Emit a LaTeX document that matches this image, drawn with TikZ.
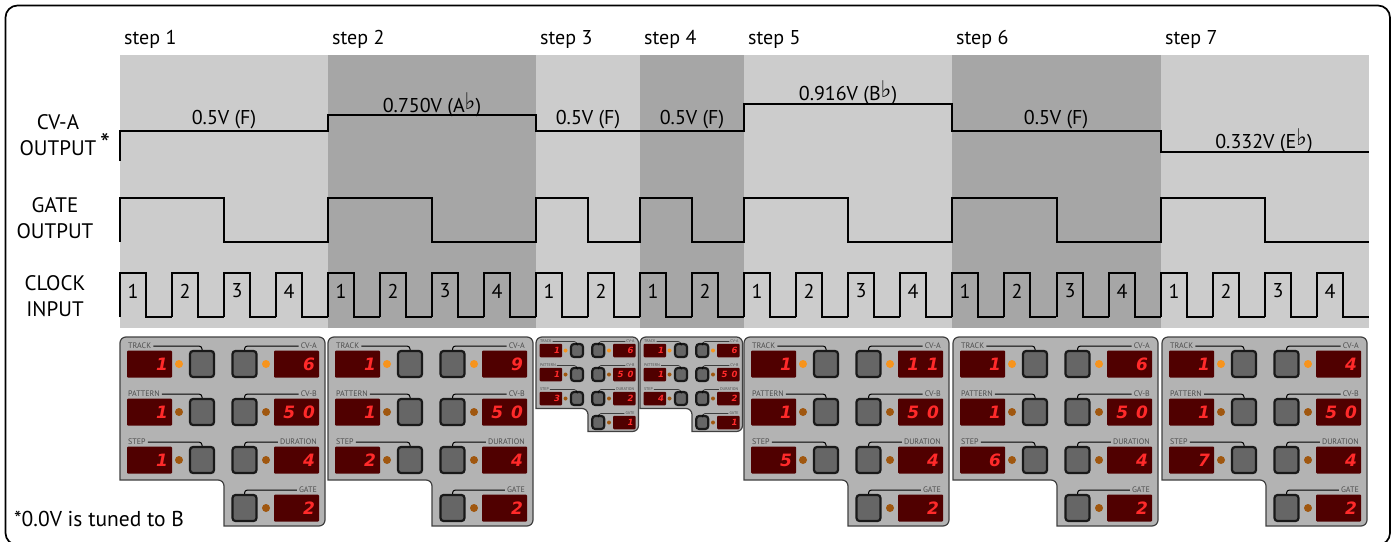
\documentclass[tikz,border=0pt]{standalone}
\usepackage{fontspec}
\setmainfont{PT Sans}
\newfontfamily\segfont{DejaVu Sans}
\usetikzlibrary{%
  positioning,% wg. " of "
  calc
}
\definecolor{bandlight}{HTML}{CCCCCC}
\definecolor{banddark}{HTML}{A6A6A6}
\definecolor{panelgray}{HTML}{B3B3B3}
\definecolor{displayred}{HTML}{500000}
\definecolor{segred}{HTML}{FF2A2A}
\definecolor{ledon}{HTML}{F7941D}
\definecolor{ledoff}{HTML}{A0570F}

\tikzset{
display/.style={rectangle, rounded corners=1pt, fill=displayred, inner sep=0pt, minimum width=45pt, minimum height=27pt},
button/.style={rectangle, rounded corners=3pt, draw=black!90, line width=2.2pt, fill=black!60, inner sep=0pt, minimum width=24pt, minimum height=26pt},
led/.style={circle, inner sep=0pt, minimum size=8pt},
digit/.style={inner sep=0pt, text=segred, font=\segfont\bfseries\itshape\fontsize{17}{18}\selectfont},
tag/.style={inner sep=0pt, text=black!70, font=\fontsize{8}{8}\selectfont},
wave/.style={line width=1.7pt, line join=miter},
steplabel/.style={anchor=west, inner sep=0pt, font=\fontsize{20}{22}\selectfont},
value/.style={inner sep=0pt, font=\fontsize{20}{22}\selectfont},
signal/.style={inner sep=0pt, align=center, font=\fontsize{21}{26}\selectfont}
}

% prefix, x, scale, cv-a, step, duration, gate
\newcommand{\panel}[7]{
\begin{scope}[shift={(#2,337)}, scale=#3, transform shape]
\draw[fill=panelgray, draw=black!75, line width=1.2pt] (0,143) [rounded corners=6pt] -- (0,0) -- (205,0) -- (205,189) [sharp corners] -- (104,189) [rounded corners=6pt] -- (104,143) [sharp corners] -- cycle;

\node[display] (#1d1) at (29.5,27) {};
\node[display] (#1d2) at (29.5,75) {};
\node[display] (#1d3) at (29.5,123) {};
\node[display] (#1d4) at (176.5,27) {};
\node[display] (#1d5) at (176.5,75) {};
\node[display] (#1d6) at (176.5,123) {};
\node[display] (#1d7) at (176.5,171) {};

\node[digit, anchor=east] at ($(#1d1.east)+(-4,0)$) {1};
\node[digit, anchor=east] at ($(#1d2.east)+(-4,0)$) {1};
\node[digit, anchor=east] at ($(#1d3.east)+(-4,0)$) {#5};
\node[digit, anchor=east] at ($(#1d4.east)+(-4,0)$) {#4};
\node[digit, anchor=east] at ($(#1d5.east)+(-4,0)$) {5\hspace{8pt}0};
\node[digit, anchor=east] at ($(#1d6.east)+(-4,0)$) {#6};
\node[digit, anchor=east] at ($(#1d7.east)+(-4,0)$) {#7};

\node[led, fill=ledon] (#1l1) at (59,27) {};
\node[led, fill=ledoff] (#1l2) at (59,75) {};
\node[led, fill=ledoff] (#1l3) at (59,123) {};
\node[led, fill=ledon] (#1l4) at (146,27) {};
\node[led, fill=ledoff] (#1l5) at (146,75) {};
\node[led, fill=ledoff] (#1l6) at (146,123) {};
\node[led, fill=ledoff] (#1l7) at (146,171) {};

\node[button] (#1b1) at (82,27) {};
\node[button] (#1b2) at (82,75) {};
\node[button] (#1b3) at (82,123) {};
\node[button] (#1b4) at (124.5,27) {};
\node[button] (#1b5) at (124.5,75) {};
\node[button] (#1b6) at (124.5,123) {};
\node[button] (#1b7) at (124.5,171) {};

\node[tag, anchor=west] (#1t1) at (8,9) {TRACK};
\node[tag, anchor=west] (#1t2) at (8,57) {PATTERN};
\node[tag, anchor=west] (#1t3) at (8,105) {STEP};
\node[tag, anchor=east] (#1t4) at (197,9) {CV-A};
\node[tag, anchor=east] (#1t5) at (197,57) {CV-B};
\node[tag, anchor=east] (#1t6) at (197,105) {DURATION};
\node[tag, anchor=east] (#1t7) at (197,153) {GATE};

\draw[line width=#3*1pt, rounded corners=3pt] (#1t1.east) ++(2,0) -| (#1b1.north);
\draw[line width=#3*1pt, rounded corners=3pt] (#1t2.east) ++(2,0) -| (#1b2.north);
\draw[line width=#3*1pt, rounded corners=3pt] (#1t3.east) ++(2,0) -| (#1b3.north);
\draw[line width=#3*1pt, rounded corners=3pt] (#1t4.west) ++(-2,0) -| (#1b4.north);
\draw[line width=#3*1pt, rounded corners=3pt] (#1t5.west) ++(-2,0) -| (#1b5.north);
\draw[line width=#3*1pt, rounded corners=3pt] (#1t6.west) ++(-2,0) -| (#1b6.north);
\draw[line width=#3*1pt, rounded corners=3pt] (#1t7.west) ++(-2,0) -| (#1b7.north);
\end{scope}
}

\newcommand{\flatsign}{\raisebox{3pt}{\segfont\fontsize{23}{23}\selectfont ♭}}

\begin{document}
\begin{tikzpicture}
[x=1pt, y=-1pt, draw=black]
\useasboundingbox (0,0) rectangle (1394,541);

\begin{scope}
\clip (0,0) rectangle (1394,541);
\draw[line width=1.7pt, rounded corners=12pt] (5.5,5.5) rectangle (1390,545);
\end{scope}

\fill[bandlight] (120,55) rectangle (1369,328);
\fill[banddark] (328,55) rectangle (536,328);
\fill[banddark] (640,55) rectangle (744,328);
\fill[banddark] (952,55) rectangle (1161,328);

\node[steplabel] (s1) at (124,39) {step 1};
\node[steplabel] (s2) at (332,39) {step 2};
\node[steplabel] (s3) at (540,39) {step 3};
\node[steplabel] (s4) at (644,39) {step 4};
\node[steplabel] (s5) at (748,39) {step 5};
\node[steplabel] (s6) at (956,39) {step 6};
\node[steplabel] (s7) at (1165,39) {step 7};

\node[signal] (cv) at (58,135) {CV-A\\OUTPUT};
\node[inner sep=0pt, font=\fontsize{28}{28}\selectfont] (star) at (105,143) {*};
\node[signal] (gate) at (55,218) {GATE\\OUTPUT};
\node[signal] (clock) at (55,296) {CLOCK\\INPUT};

\draw[wave] (120,161) -- (120,131) -- (328,131) -- (328,115) -- (536,115) -- (536,131) -- (744,131) -- (744,104) -- (952,104) -- (952,131) -- (1161,131) -- (1161,152) -- (1369,152);

\node[value] (v1) at (224,120) {0.5V (F)};
\node[value] (v2) at (432,105) {0.750V (A\flatsign)};
\node[value] (v3) at (588,120) {0.5V (F)};
\node[value] (v4) at (692,120) {0.5V (F)};
\node[value] (v5) at (848,93) {0.916V (B\flatsign)};
\node[value] (v6) at (1056,120) {0.5V (F)};
\node[value] (v7) at (1264,141) {0.332V (E\flatsign)};

\draw[wave] (120,242) -- (120,198) -- (224,198) -- (224,242) -- (328,242) -- (328,198) -- (432,198) -- (432,242) -- (536,242) -- (536,198) -- (588,198) -- (588,242) -- (640,242) -- (640,198) -- (692,198) -- (692,242) -- (744,242) -- (744,198) -- (848,198) -- (848,242) -- (952,242) -- (952,198) -- (1057,198) -- (1057,242) -- (1161,242) -- (1161,198) -- (1265,198) -- (1265,242) -- (1369,242);

\foreach \x/\n in {120/1,172/2,224/3,276/4,328/1,380/2,432/3,484/4,536/1,588/2,640/1,692/2,744/1,796/2,848/3,900/4,952/1,1004/2,1057/3,1109/4,1161/1,1213/2,1265/3,1317/4}{
  \draw[wave] (\x,317) -- (\x,273) -- ++(26,0) -- ++(0,44) -- ++(26,0);
  \node[inner sep=0pt, font=\fontsize{20}{22}\selectfont] (c\x) at (\x+13,291) {\n};
}

\panel{a}{120}{1}{6}{1}{4}{2}
\panel{b}{328}{1}{9}{2}{4}{2}
\panel{c}{536}{0.5}{6}{3}{2}{1}
\panel{d}{640}{0.5}{6}{4}{2}{1}
\panel{e}{744}{1}{1\hspace{8pt}1}{5}{4}{2}
\panel{f}{953}{1}{6}{6}{4}{2}
\panel{g}{1162}{1}{4}{7}{4}{2}

\node[anchor=west, inner sep=0pt, font=\fontsize{21.5}{22}\selectfont] (note) at (14,519) {*0.0V is tuned to B};
\end{tikzpicture}
\end{document}
